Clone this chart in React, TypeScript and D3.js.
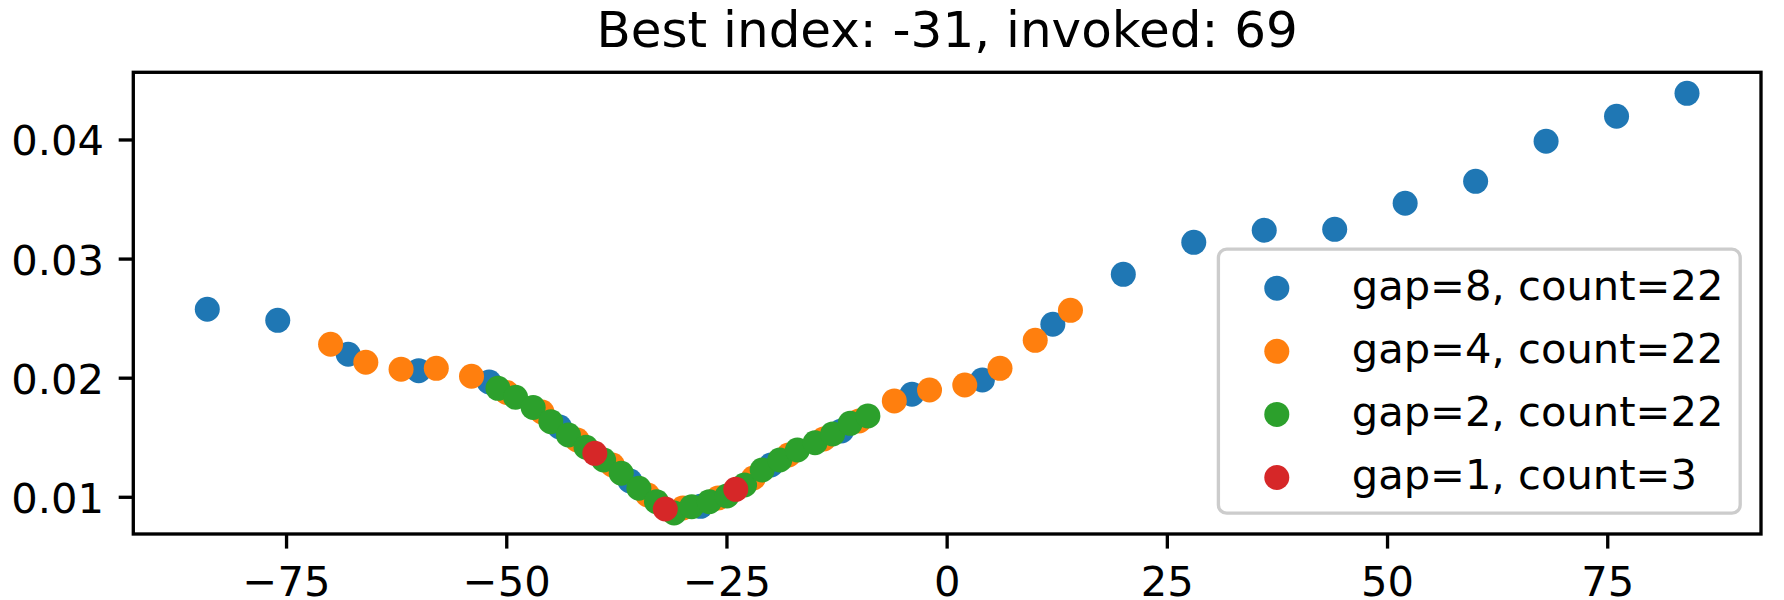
import React from "react";
import * as d3 from "d3";

// ---- data ----
const gap8X = [-84, -76, -68, -60, -52, -44, -36, -28, -20, -12, -4, 4, 12, 20, 28, 36, 44, 52, 60, 68, 76, 84];
const gap8Y = [0.02579, 0.02486, 0.02201, 0.02063, 0.01968, 0.0159, 0.01137, 0.00924, 0.01271, 0.01557, 0.01865, 0.01985, 0.02453, 0.02872, 0.03141, 0.03242, 0.0325, 0.03469, 0.03653, 0.03989, 0.04199, 0.04392];

const gap4X = [-70, -66, -62, -58, -54, -50, -46, -42, -38, -34, -30, -26, -22, -18, -14, -10, -6, -2, 2, 6, 10, 14];
const gap4Y = [0.02285, 0.02134, 0.02075, 0.02083, 0.02016, 0.0188, 0.01716, 0.01481, 0.01271, 0.01019, 0.0091, 0.00994, 0.01162, 0.01355, 0.0149, 0.01641, 0.01809, 0.01901, 0.01943, 0.02083, 0.02318, 0.0257];

const gap2X = [-51, -49, -47, -45, -43, -41, -39, -37, -35, -33, -31, -29, -27, -25, -23, -21, -19, -17, -15, -13, -11, -9];
const gap2Y = [0.01915, 0.0184, 0.01754, 0.01635, 0.01523, 0.0142, 0.01313, 0.01202, 0.01076, 0.00963, 0.00868, 0.00921, 0.00963, 0.01011, 0.01103, 0.01229, 0.01313, 0.01397, 0.01458, 0.01532, 0.01621, 0.01683];

const gap1X = [-40, -32, -24];
const gap1Y = [0.01369, 0.00902, 0.01067];

const seriesLabels = ["gap=8, count=22", "gap=4, count=22", "gap=2, count=22", "gap=1, count=3"];
const seriesColors = ["#1f77b4", "#ff7f0e", "#2ca02c", "#d62728"];
const titleText = "Best index: -31, invoked: 69";
const xTicks = [-75, -50, -25, 0, 25, 50, 75];
const yTicks = [0.01, 0.02, 0.03, 0.04];

// ---- layout ----
const W = 1784;
const H = 600;
const AX_L = 133.3;
const AX_R = 1761;
const AX_T = 72.3;
const AX_B = 534;
const FS = 41.67;
const TITLE_FS = 50;
const LW = 3.33;
const TICK = 14.6;
const PAD = 14.6;
const R = 12.5;
const FONT = "'DejaVu Sans', sans-serif";

function padded(ext: [number, number]): [number, number] {
  const d = (ext[1] - ext[0]) * 0.05;
  return [ext[0] - d, ext[1] + d];
}

export default function App() {
  const allX = [...gap8X, ...gap4X, ...gap2X, ...gap1X];
  const allY = [...gap8Y, ...gap4Y, ...gap2Y, ...gap1Y];
  const x = d3.scaleLinear().domain(padded(d3.extent(allX) as [number, number])).range([AX_L, AX_R]);
  const y = d3.scaleLinear().domain(padded(d3.extent(allY) as [number, number])).range([AX_B, AX_T]);

  const series = [
    { xs: gap8X, ys: gap8Y },
    { xs: gap4X, ys: gap4Y },
    { xs: gap2X, ys: gap2Y },
    { xs: gap1X, ys: gap1Y },
  ];

  const fmtX = (v: number) => (v < 0 ? "\u2212" + Math.abs(v) : String(v));
  const fmtY = d3.format(".2f");

  // legend geometry (lower right)
  const legW = 521.8;
  const legH = 264;
  const legR = AX_R - 20.8;
  const legB = AX_B - 20.8;
  const legL = legR - legW;
  const legT = legB - legH;
  const rowPitch = 63.1;
  const firstRow = legT + 39;
  const handleX = legL + 16.7 + 41.7;
  const textX = legL + 16.7 + 83.3 + 33.3;

  return (
    <svg
      width={W}
      height={H}
      style={{ position: "absolute", left: 0, top: 0, background: "#fff" }}
      fontFamily={FONT}
    >
      <rect x={0} y={0} width={W} height={H} fill="#fff" />
      <defs>
        <clipPath id="axclip">
          <rect x={AX_L} y={AX_T} width={AX_R - AX_L} height={AX_B - AX_T} />
        </clipPath>
      </defs>
      <g clipPath="url(#axclip)">
        {series.map((s, si) => (
          <g key={si}>
            {s.xs.map((xv, i) => (
              <circle key={i} cx={x(xv)} cy={y(s.ys[i])} r={R} fill={seriesColors[si]} />
            ))}
          </g>
        ))}
      </g>

      {/* x ticks */}
      {xTicks.map((t) => (
        <g key={"x" + t}>
          <line x1={x(t)} x2={x(t)} y1={AX_B} y2={AX_B + TICK} stroke="#000" strokeWidth={LW} />
          <text x={x(t)} y={596} fontSize={FS} textAnchor="middle" fill="#000">
            {fmtX(t)}
          </text>
        </g>
      ))}
      {/* y ticks */}
      {yTicks.map((t) => (
        <g key={"y" + t}>
          <line x1={AX_L - TICK} x2={AX_L} y1={y(t)} y2={y(t)} stroke="#000" strokeWidth={LW} />
          <text x={AX_L - TICK - PAD} y={y(t) + 15.5} fontSize={FS} textAnchor="end" fill="#000">
            {fmtY(t)}
          </text>
        </g>
      ))}

      {/* spines */}
      <rect
        x={AX_L}
        y={AX_T}
        width={AX_R - AX_L}
        height={AX_B - AX_T}
        fill="none"
        stroke="#000"
        strokeWidth={LW}
        strokeLinejoin="miter"
      />

      {/* title */}
      <text x={(AX_L + AX_R) / 2} y={AX_T - 25} fontSize={TITLE_FS} textAnchor="middle" fill="#000">
        {titleText}
      </text>

      {/* legend */}
      <rect
        x={legL}
        y={legT}
        width={legW}
        height={legH}
        rx={8.3}
        ry={8.3}
        fill="#fff"
        fillOpacity={0.8}
        stroke="#cccccc"
        strokeWidth={LW}
      />
      {seriesLabels.map((lab, i) => (
        <g key={lab}>
          <circle cx={handleX} cy={firstRow + i * rowPitch} r={R} fill={seriesColors[i]} />
          <text x={textX} y={firstRow + i * rowPitch + 11.7} fontSize={FS} fill="#000">
            {lab}
          </text>
        </g>
      ))}
    </svg>
  );
}
